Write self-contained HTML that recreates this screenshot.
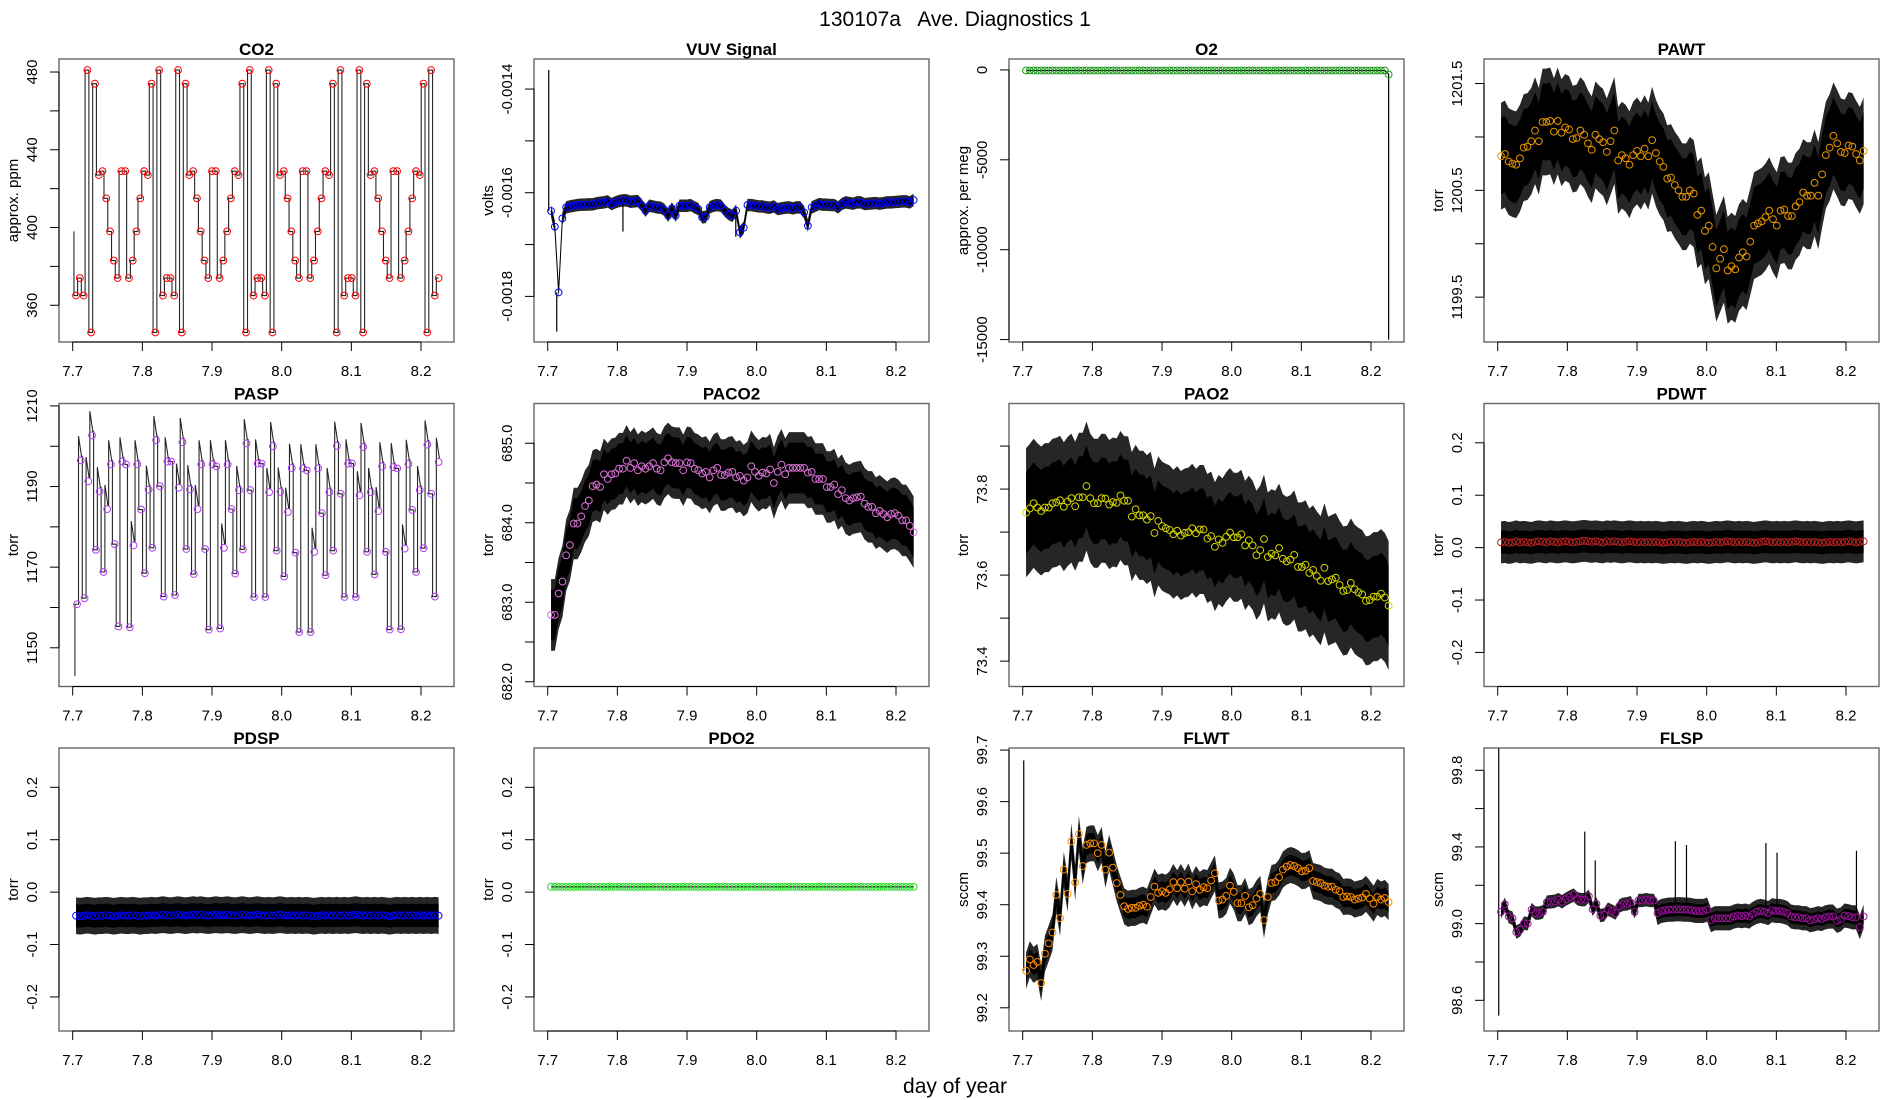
<!DOCTYPE html>
<html><head><meta charset="utf-8"><title>130107a Ave. Diagnostics 1</title>
<style>
html,body{margin:0;padding:0;background:#fff;}
svg{display:block;font-family:"Liberation Sans",Arial,sans-serif;}
</style></head>
<body>
<svg id="chart" width="1900" height="1100" viewBox="0 0 1900 1100" xmlns="http://www.w3.org/2000/svg">
<rect x="0" y="0" width="1900" height="1100" fill="#fff"/>
<text x="955" y="26" font-size="21" text-anchor="middle" xml:space="preserve">130107a   Ave. Diagnostics 1</text>
<text x="955" y="1093" font-size="21" text-anchor="middle">day of year</text>
</svg>
<script>
// ---- shared x axis ----
const xTicks = [7.7, 7.8, 7.9, 8.0, 8.1, 8.2];
const xTickLabels = ["7.7", "7.8", "7.9", "8.0", "8.1", "8.2"];

// ---- CO2 ----
const co2Values = [365,374,365,481,346,474,427,429,415,398,383,374,429,429,374,383,398,415,429,427,474,346,481,365,374,374,365,481,346,474,427,429,415,398,383,374,429,429,374,383,398,415,429,427,474,346,481,365,374,374,365,481,346,474,427,429,415,398,383,374,429,429,374,383,398,415,429,427,474,346,481,365,374,374,365,481,346,474,427,429,415,398,383,374,429,429,374,383,398,415,429,427,474,346,481,365,374];
const co2Ticks = [360,380,400,420,440,460,480];
const co2TickLabels = ["360","","400","","440","","480"];

// ---- VUV ----
const vuvValues = [-0.0016354,-0.0016656,-0.0017923,-0.0016495,-0.0016283,-0.0016264,-0.0016251,-0.0016238,-0.0016231,-0.0016231,-0.0016225,-0.0016225,-0.0016206,-0.0016193,-0.0016186,-0.0016167,-0.0016219,-0.0016186,-0.0016161,-0.0016148,-0.0016148,-0.0016174,-0.0016167,-0.0016161,-0.0016238,-0.0016347,-0.0016251,-0.0016264,-0.0016283,-0.0016289,-0.0016328,-0.0016444,-0.0016302,-0.0016444,-0.0016251,-0.0016251,-0.0016251,-0.0016238,-0.0016283,-0.0016315,-0.0016476,-0.0016463,-0.0016283,-0.0016251,-0.0016238,-0.0016251,-0.0016347,-0.0016412,-0.0016444,-0.0016347,-0.0016765,-0.0016675,-0.0016238,-0.0016238,-0.0016251,-0.0016264,-0.0016264,-0.0016283,-0.0016289,-0.0016264,-0.0016315,-0.0016302,-0.0016289,-0.0016283,-0.0016302,-0.0016283,-0.0016283,-0.0016379,-0.0016637,-0.0016283,-0.0016251,-0.0016219,-0.0016231,-0.0016231,-0.0016238,-0.0016238,-0.0016283,-0.0016219,-0.0016186,-0.0016199,-0.0016212,-0.0016186,-0.0016186,-0.0016219,-0.0016212,-0.0016206,-0.0016199,-0.0016212,-0.0016199,-0.0016186,-0.0016186,-0.0016180,-0.0016174,-0.0016167,-0.0016167,-0.0016186,-0.0016141];
const vuvSpikeTimes = [7.7015, 7.713, 7.808, 7.97, 7.98];
const vuvSpikeValues = [-0.001363, -0.001868, -0.001675, -0.001685, -0.001680];
const vuvTicks = [-0.0018,-0.0017,-0.0016,-0.0015,-0.0014];
const vuvTickLabels = ["-0.0018","","-0.0016","","-0.0014"];

// ---- O2 ----
const o2Values = [-30,-30,-30,-30,-30,-30,-30,-30,-30,-30,-30,-30,-30,-30,-30,-30,-30,-30,-30,-30,-30,-30,-30,-30,-30,-30,-30,-30,-30,-30,-30,-30,-30,-30,-30,-30,-30,-30,-30,-30,-30,-30,-30,-30,-30,-30,-30,-30,-30,-30,-30,-30,-30,-30,-30,-30,-30,-30,-30,-30,-30,-30,-30,-30,-30,-30,-30,-30,-30,-30,-30,-30,-30,-30,-30,-30,-30,-30,-30,-30,-30,-30,-30,-30,-30,-30,-30,-30,-30,-30,-30,-30,-30,-30,-30,-30,-250];
const o2DropValue = [-15000];
const o2Ticks = [-15000,-10000,-5000,0];
const o2TickLabels = ["-15000","-10000","-5000","0"];

// ---- PAWT ----
const pawtValues = [1200.82,1200.84,1200.77,1200.75,1200.74,1200.80,1200.90,1200.91,1200.96,1201.06,1200.96,1201.14,1201.14,1201.15,1201.05,1201.15,1201.04,1201.09,1201.07,1200.98,1200.99,1201.06,1201.02,1200.94,1200.88,1201.02,1200.98,1200.95,1200.86,1200.96,1201.06,1200.78,1200.83,1200.80,1200.74,1200.83,1200.87,1200.82,1200.89,1200.82,1200.97,1200.85,1200.77,1200.72,1200.61,1200.62,1200.55,1200.50,1200.44,1200.44,1200.50,1200.47,1200.27,1200.31,1200.12,1200.17,1199.97,1199.77,1199.86,1199.95,1199.75,1199.79,1199.76,1199.87,1199.92,1199.88,1200.02,1200.17,1200.19,1200.21,1200.25,1200.31,1200.23,1200.17,1200.31,1200.32,1200.26,1200.26,1200.35,1200.39,1200.48,1200.45,1200.45,1200.57,1200.45,1200.65,1200.83,1200.90,1201.01,1200.94,1200.86,1200.85,1200.92,1200.91,1200.84,1200.78,1200.87];
const pawtTicks = [1199.5,1200.0,1200.5,1201.0,1201.5];
const pawtTickLabels = ["1199.5","","1200.5","","1201.5"];

// ---- PASP ----
const paspValues = [1160.8,1196.5,1162.3,1191.3,1202.7,1174.3,1188.8,1168.8,1184.4,1195.5,1175.7,1155.3,1196.2,1195.5,1155.1,1175.4,1195.5,1184.3,1168.5,1189.2,1174.8,1201.5,1190.1,1162.7,1196.2,1196.2,1163.1,1189.7,1201.0,1174.5,1189.3,1168.3,1184.4,1195.5,1174.5,1154.5,1195.5,1195.0,1154.8,1174.8,1195.5,1184.4,1168.4,1189.1,1174.4,1200.7,1189.1,1162.6,1195.7,1195.7,1162.6,1188.6,1200.0,1174.1,1188.7,1167.7,1183.7,1194.6,1173.6,1153.9,1194.5,1194.0,1153.9,1173.8,1194.5,1183.4,1168.0,1188.6,1174.1,1200.1,1188.2,1162.6,1195.7,1195.7,1162.6,1187.8,1199.8,1173.8,1188.6,1168.2,1183.9,1195.0,1173.8,1154.5,1194.8,1194.5,1154.6,1174.6,1195.6,1184.2,1168.8,1189.1,1174.7,1200.4,1188.2,1162.7,1196.1];
const paspTicks = [1150,1160,1170,1180,1190,1200,1210];
const paspTickLabels = ["1150","","1170","","1190","","1210"];

// ---- PACO2 ----
const paco2Values = [682.84,682.84,683.11,683.26,683.59,683.72,683.99,683.99,684.08,684.21,684.28,684.46,684.48,684.45,684.61,684.55,684.61,684.62,684.68,684.68,684.78,684.69,684.75,684.66,684.71,684.68,684.71,684.75,684.68,684.66,684.76,684.81,684.76,684.75,684.75,684.66,684.76,684.75,684.68,684.66,684.62,684.64,684.57,684.66,684.69,684.60,684.60,684.63,684.64,684.57,684.59,684.53,684.57,684.71,684.64,684.59,684.63,684.62,684.67,684.50,684.64,684.73,684.61,684.69,684.69,684.69,684.69,684.69,684.63,684.64,684.55,684.55,684.55,684.45,684.45,684.48,684.36,684.41,684.31,684.28,684.31,684.32,684.33,684.24,684.20,684.20,684.12,684.15,684.11,684.07,684.11,684.12,684.09,684.03,684.03,683.96,683.88];
const paco2Ticks = [682.0,682.5,683.0,683.5,684.0,684.5,685.0];
const paco2TickLabels = ["682.0","","683.0","","684.0","","685.0"];

// ---- PAO2 ----
const pao2Values = [73.745,73.755,73.767,73.757,73.749,73.757,73.757,73.767,73.769,73.774,73.759,73.771,73.779,73.760,73.781,73.781,73.807,73.779,73.767,73.767,73.779,73.778,73.764,73.770,73.768,73.785,73.773,73.773,73.736,73.753,73.739,73.739,73.729,73.737,73.698,73.726,73.714,73.709,73.705,73.695,73.703,73.692,73.698,73.700,73.709,73.697,73.706,73.706,73.685,73.691,73.666,73.683,73.675,73.689,73.699,73.688,73.688,73.695,73.669,73.681,73.669,73.646,73.658,73.684,73.642,73.650,73.646,73.663,73.638,73.632,73.636,73.647,73.619,73.619,73.624,73.605,73.612,73.598,73.587,73.617,73.586,73.590,73.594,73.577,73.563,73.565,73.582,73.567,73.560,73.555,73.540,73.542,73.550,73.550,73.557,73.548,73.529];
const pao2Ticks = [73.4,73.5,73.6,73.7,73.8,73.9];
const pao2TickLabels = ["73.4","","73.6","","73.8",""];

// ---- PDWT ----
const pdwtValues = [0.010,0.011,0.009,0.010,0.012,0.010,0.011,0.010,0.009,0.011,0.012,0.011,0.010,0.012,0.011,0.010,0.011,0.012,0.011,0.010,0.011,0.012,0.013,0.012,0.011,0.012,0.011,0.010,0.012,0.011,0.012,0.011,0.010,0.011,0.012,0.011,0.010,0.011,0.010,0.011,0.010,0.011,0.010,0.009,0.010,0.011,0.010,0.011,0.010,0.009,0.010,0.011,0.010,0.011,0.010,0.009,0.010,0.011,0.010,0.011,0.012,0.011,0.010,0.011,0.010,0.011,0.010,0.009,0.010,0.011,0.012,0.011,0.010,0.011,0.010,0.011,0.010,0.011,0.012,0.011,0.010,0.011,0.010,0.011,0.010,0.009,0.010,0.011,0.010,0.011,0.010,0.011,0.012,0.011,0.010,0.011,0.012];
const pdTicks = [-0.2,-0.1,0.0,0.1,0.2];
const pdTickLabels = ["-0.2","-0.1","0.0","0.1","0.2"];

// ---- PDSP ----
const pdspValues = [-0.045,-0.046,-0.045,-0.044,-0.045,-0.046,-0.045,-0.045,-0.044,-0.045,-0.046,-0.045,-0.044,-0.045,-0.045,-0.044,-0.045,-0.046,-0.045,-0.045,-0.044,-0.045,-0.044,-0.043,-0.044,-0.045,-0.044,-0.043,-0.044,-0.045,-0.044,-0.043,-0.044,-0.043,-0.044,-0.045,-0.044,-0.043,-0.044,-0.044,-0.043,-0.044,-0.045,-0.044,-0.043,-0.044,-0.045,-0.044,-0.043,-0.044,-0.045,-0.044,-0.045,-0.044,-0.043,-0.044,-0.045,-0.044,-0.045,-0.044,-0.045,-0.044,-0.045,-0.046,-0.045,-0.044,-0.045,-0.044,-0.045,-0.044,-0.045,-0.044,-0.045,-0.044,-0.043,-0.044,-0.045,-0.044,-0.045,-0.044,-0.045,-0.044,-0.045,-0.046,-0.045,-0.044,-0.045,-0.044,-0.045,-0.044,-0.045,-0.044,-0.045,-0.044,-0.045,-0.044,-0.045];

// ---- PDO2 ----
const pdo2Values = [0.010,0.010,0.010,0.010,0.010,0.010,0.010,0.010,0.010,0.010,0.010,0.010,0.010,0.010,0.010,0.010,0.010,0.010,0.010,0.010,0.010,0.010,0.010,0.010,0.010,0.010,0.010,0.010,0.010,0.010,0.010,0.010,0.010,0.010,0.010,0.010,0.010,0.010,0.010,0.010,0.010,0.010,0.010,0.010,0.010,0.010,0.010,0.010,0.010,0.010,0.010,0.010,0.010,0.010,0.010,0.010,0.010,0.010,0.010,0.010,0.010,0.010,0.010,0.010,0.010,0.010,0.010,0.010,0.010,0.010,0.010,0.010,0.010,0.010,0.010,0.010,0.010,0.010,0.010,0.010,0.010,0.010,0.010,0.010,0.010,0.010,0.010,0.010,0.010,0.010,0.010,0.010,0.010,0.010,0.010,0.010,0.010];

// ---- FLWT ----
const flwtValues = [99.272,99.294,99.283,99.289,99.248,99.305,99.325,99.346,99.419,99.374,99.468,99.421,99.523,99.443,99.537,99.475,99.516,99.519,99.519,99.500,99.516,99.468,99.501,99.472,99.442,99.419,99.397,99.392,99.394,99.394,99.398,99.400,99.396,99.415,99.435,99.423,99.426,99.423,99.430,99.444,99.432,99.444,99.431,99.445,99.426,99.440,99.429,99.434,99.432,99.447,99.461,99.408,99.410,99.417,99.437,99.425,99.403,99.403,99.417,99.395,99.399,99.412,99.421,99.370,99.415,99.442,99.444,99.453,99.468,99.474,99.477,99.475,99.471,99.465,99.466,99.471,99.446,99.444,99.442,99.437,99.435,99.435,99.429,99.426,99.415,99.416,99.415,99.410,99.412,99.414,99.421,99.412,99.402,99.415,99.410,99.413,99.405];
const flwtSpikeTimes = [7.7015];
const flwtSpikeValues = [99.68];
const flwtTicks = [99.2,99.3,99.4,99.5,99.6,99.7];
const flwtTickLabels = ["99.2","99.3","99.4","99.5","99.6","99.7"];

// ---- FLSP ----
const flspValues = [99.061,99.101,99.037,99.028,98.956,98.967,99.002,99.000,99.073,99.055,99.055,99.062,99.112,99.114,99.116,99.125,99.114,99.128,99.139,99.149,99.130,99.125,99.125,99.143,99.075,99.103,99.042,99.046,99.075,99.066,99.055,99.092,99.101,99.103,99.110,99.061,99.121,99.121,99.125,99.121,99.121,99.055,99.066,99.070,99.073,99.073,99.075,99.075,99.073,99.073,99.070,99.066,99.066,99.066,99.073,99.018,99.028,99.028,99.028,99.028,99.028,99.037,99.042,99.039,99.042,99.037,99.051,99.062,99.066,99.062,99.055,99.070,99.066,99.066,99.062,99.055,99.037,99.033,99.033,99.028,99.028,99.018,99.022,99.028,99.024,99.033,99.037,99.037,99.015,99.022,99.042,99.039,99.033,99.033,98.982,99.037];
const flspSpikeTimes = [7.7015, 7.7015, 7.825, 7.840, 7.955, 7.971, 8.085, 8.101, 8.215];
const flspSpikeValues = [98.52, 99.94, 99.48, 99.33, 99.43, 99.41, 99.42, 99.37, 99.38];
const flspTicks = [98.6,98.8,99.0,99.2,99.4,99.6,99.8];
const flspTickLabels = ["98.6","","99.0","","99.4","","99.8"];

// ---------- rendering ----------
const NS = "http://www.w3.org/2000/svg";
const svg = document.getElementById("chart");
const X_LO = 7.68033, X_HI = 8.24737;
const PW = 395, PH = 283;

function el(tag, attrs, parent) {
  const e = document.createElementNS(NS, tag);
  for (const k in attrs) e.setAttribute(k, attrs[k]);
  parent.appendChild(e);
  return e;
}
function times(n, t0, t1) {
  const out = [];
  for (let i = 0; i < n; i++) out.push(t0 + (t1 - t0) * i / (n - 1));
  return out;
}

const panels = [
  {key:"co2", title:"CO2", ylab:"approx. ppm", col:0,row:0, lo:341.1, hi:486.7, vals:co2Values, ticks:co2Ticks, labels:co2TickLabels, color:"#ff0000", kind:"step", t0:7.7048, t1:8.2253},
  {key:"vuv", title:"VUV Signal", ylab:"volts", col:1,row:0, lo:-0.001888, hi:-0.001342, vals:vuvValues, ticks:vuvTicks, labels:vuvTickLabels, color:"#0000ff", kind:"band", inner:0.000005, outer:0.000012, spikeT:vuvSpikeTimes, spikeV:vuvSpikeValues},
  {key:"o2", title:"O2", ylab:"approx. per meg", col:2,row:0, lo:-15135, hi:608, vals:o2Values, ticks:o2Ticks, labels:o2TickLabels, color:"#1a9a1a", kind:"o2"},
  {key:"pawt", title:"PAWT", ylab:"torr", col:3,row:0, lo:1199.08, hi:1201.73, vals:pawtValues, ticks:pawtTicks, labels:pawtTickLabels, color:"#e69500", kind:"band", inner:0.36, outer:0.5},
  {key:"pasp", title:"PASP", ylab:"torr", col:0,row:1, lo:1140.4, hi:1210.6, vals:paspValues, ticks:paspTicks, labels:paspTickLabels, color:"#b040f0", kind:"pstep", t0:7.7062, t1:8.2253},
  {key:"paco2", title:"PACO2", ylab:"torr", col:1,row:1, lo:681.94, hi:685.50, vals:paco2Values, ticks:paco2Ticks, labels:paco2TickLabels, color:"#da70d6", kind:"band", inner:0.32, outer:0.45},
  {key:"pao2", title:"PAO2", ylab:"torr", col:2,row:1, lo:73.341, hi:73.999, vals:pao2Values, ticks:pao2Ticks, labels:pao2TickLabels, color:"#d4d400", kind:"band", inner:0.095, outer:0.15},
  {key:"pdwt", title:"PDWT", ylab:"torr", col:3,row:1, lo:-0.265, hi:0.275, vals:pdwtValues, ticks:pdTicks, labels:pdTickLabels, color:"#b22222", kind:"band", inner:0.022, outer:0.04},
  {key:"pdsp", title:"PDSP", ylab:"torr", col:0,row:2, lo:-0.265, hi:0.275, vals:pdspValues, ticks:pdTicks, labels:pdTickLabels, color:"#0000ff", kind:"band", inner:0.022, outer:0.035},
  {key:"pdo2", title:"PDO2", ylab:"torr", col:1,row:2, lo:-0.265, hi:0.275, vals:pdo2Values, ticks:pdTicks, labels:pdTickLabels, color:"#22dd22", kind:"line"},
  {key:"flwt", title:"FLWT", ylab:"sccm", col:2,row:2, lo:99.155, hi:99.704, vals:flwtValues, ticks:flwtTicks, labels:flwtTickLabels, color:"#ff8c00", kind:"band", inner:0.02, outer:0.035, spikeT:flwtSpikeTimes, spikeV:flwtSpikeValues},
  {key:"flsp", title:"FLSP", ylab:"sccm", col:3,row:2, lo:98.44, hi:99.916, vals:flspValues, ticks:flspTicks, labels:flspTickLabels, color:"#9b119b", kind:"band", inner:0.02, outer:0.035, breakT:7.925, breakScale:1.8, spikeT:flspSpikeTimes, spikeV:flspSpikeValues}
];

panels.forEach(p => {
  const left = 59 + 475 * p.col, top = 59 + 344.5 * p.row, bottom = top + PH;
  const xs = t => left + (t - X_LO) / (X_HI - X_LO) * PW;
  const ys = v => bottom - (v - p.lo) / (p.hi - p.lo) * PH;
  const g = el("g", {}, svg);
  
  

  const clipId = "clip-" + p.key;
  const cp = el("clipPath", {id: clipId}, g);
  el("rect", {x:left, y:top, width:PW, height:PH}, cp);
  const plot = el("g", {"clip-path": "url(#" + clipId + ")"}, g);
  
  

  const n = p.vals.length;
  const ts = times(n, p.t0 || 7.7048, p.t1 || 8.2253);
  const sc = t => (p.breakT && t >= p.breakT) ? p.breakScale : 1;

  if (p.kind === "band") {
    [["outer", p.outer, 0.85], ["inner", p.inner, 1]].forEach(([nm, s, op]) => {
      let up = "", dn = "";
      for (let i = 0; i < n; i++) up += xs(ts[i]).toFixed(2) + "," + ys(p.vals[i] + s * sc(ts[i])).toFixed(2) + " ";
      for (let i = n - 1; i >= 0; i--) dn += xs(ts[i]).toFixed(2) + "," + ys(p.vals[i] - s * sc(ts[i])).toFixed(2) + " ";
      const poly = el("polygon", {points: up + dn, fill: "#000", "fill-opacity": op}, plot);
      
      
    });
    let d = "";
    for (let i = 0; i < n; i++) d += (i ? "L" : "M") + xs(ts[i]).toFixed(2) + "," + ys(p.vals[i]).toFixed(2);
    const ln = el("path", {d: d, fill: "none", stroke: "#000", "stroke-width": 1}, plot);
    
    
  } else if (p.kind === "step" || p.kind === "pstep") {
    let d = "M" + xs(ts[0] - 0.003).toFixed(2) + "," + ys(p.kind === "step" ? 398 : 1143).toFixed(2) + "V" + ys(p.vals[0]).toFixed(2) + "H" + xs(ts[0]).toFixed(2);
    for (let i = 0; i < n - 1; i++) {
      const xa = xs(ts[i]) + 1.5;
      d += "H" + xa.toFixed(2);
      if (p.kind === "pstep" && p.vals[i + 1] > p.vals[i]) {
        d += "V" + ys(p.vals[i + 1] + 6).toFixed(2) + "L" + (xa + 3).toFixed(2) + "," + ys(p.vals[i + 1] + 1).toFixed(2);
      } else {
        d += "V" + ys(p.vals[i + 1]).toFixed(2);
      }
      d += "H" + xs(ts[i + 1]).toFixed(2);
    }
    const ln = el("path", {d: d, fill: "none", stroke: "#000", "stroke-width": 1.1, "stroke-opacity": 0.85}, plot);
    
    
  } else if (p.kind === "o2" || p.kind === "line") {
    let d = "";
    for (let i = 0; i < n; i++) d += (i ? "L" : "M") + xs(ts[i]).toFixed(2) + "," + ys(p.vals[i]).toFixed(2);
    if (p.kind === "o2") d += "V" + ys(o2DropValue[0]).toFixed(2);
    const ln = el("path", {d: d, fill: "none", stroke: "#000", "stroke-width": 1.2}, plot);
    
    
  }

  if (p.spikeT) {
    p.spikeT.forEach((t, i) => {
      let j = 0, best = 1e9;
      ts.forEach((tt, k) => { if (Math.abs(tt - t) < best) { best = Math.abs(tt - t); j = k; } });
      const sp = el("line", {x1: xs(t), x2: xs(t), y1: ys(p.vals[j]), y2: ys(p.spikeV[i]), stroke: "#000", "stroke-width": 1.2}, plot);
      
      
    });
  }

  for (let i = 0; i < n; i++) {
    const c = el("circle", {cx: xs(ts[i]).toFixed(2), cy: ys(p.vals[i]).toFixed(2), r: 3.4, fill: "none", stroke: p.color, "stroke-width": 1}, plot);
    
    
  }

  const box = el("rect", {x: left, y: top, width: PW, height: PH, fill: "none", stroke: "#666", "stroke-width": 1.4}, g);
  
  

  const xa = el("g", {}, g);
  
  
  el("line", {x1: xs(xTicks[0]), x2: xs(xTicks[xTicks.length - 1]), y1: bottom, y2: bottom, stroke: "#000", "stroke-width": 1}, xa);
  xTicks.forEach((t, i) => {
    el("line", {x1: xs(t), x2: xs(t), y1: bottom, y2: bottom + 9, stroke: "#000", "stroke-width": 1}, xa);
    const tx = el("text", {x: xs(t), y: bottom + 34, "font-size": 15, "text-anchor": "middle"}, xa);
    tx.textContent = xTickLabels[i];
    
    
  });

  const ya = el("g", {}, g);
  
  
  el("line", {x1: left, x2: left, y1: ys(p.ticks[0]), y2: ys(p.ticks[p.ticks.length - 1]), stroke: "#000", "stroke-width": 1}, ya);
  p.ticks.forEach((v, i) => {
    const y = ys(v);
    el("line", {x1: left - 9, x2: left, y1: y, y2: y, stroke: "#000", "stroke-width": 1}, ya);
    if (p.labels[i]) {
      const tx = el("text", {x: left - 22, y: y, "font-size": 15, "text-anchor": "middle", transform: "rotate(-90 " + (left - 22) + " " + y + ")"}, ya);
      tx.textContent = p.labels[i];
      
      
    }
  });
  const yl = el("text", {x: left - 41, y: top + PH / 2, "font-size": 15, "text-anchor": "middle", transform: "rotate(-90 " + (left - 41) + " " + (top + PH / 2) + ")"}, g);
  yl.textContent = p.ylab;
  
  

  const tt = el("text", {x: left + PW / 2, y: top - 4, "font-size": 17, "font-weight": "bold", "text-anchor": "middle"}, g);
  tt.textContent = p.title;
  
  
});
</script>
</body></html>
